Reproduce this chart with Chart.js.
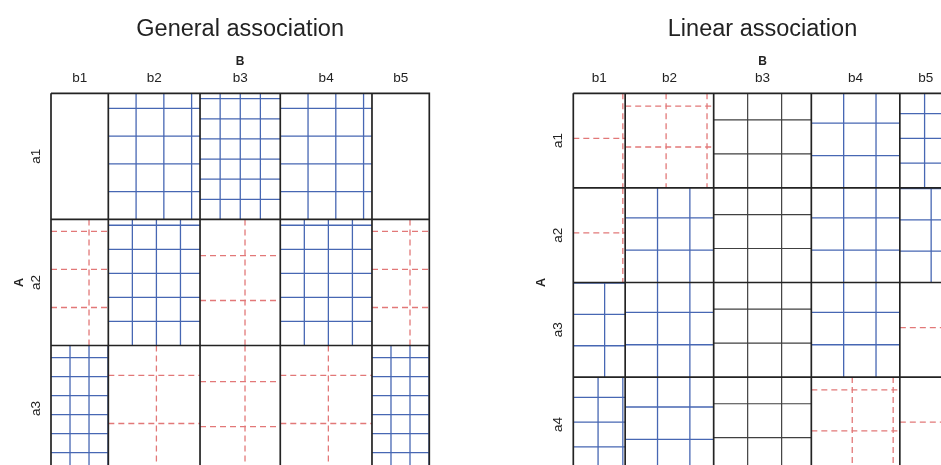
<!DOCTYPE html>
<html>
<head>
<meta charset="utf-8">
<script src="https://cdn.jsdelivr.net/npm/chart.js@4.4.1/dist/chart.umd.min.js"></script>
<style>
  html, body { margin: 0; padding: 0; background: #fff; overflow: hidden; width: 941px; height: 465px; }
  #stage { position: relative; width: 960px; height: 480px; }
  #stage canvas { position: absolute; top: 0; }
  #leftChart  { left: 0; }
  #rightChart { left: 470px; }
</style>
</head>
<body>
<div id="stage">
  <canvas id="leftChart" width="470" height="480"></canvas>
  <canvas id="rightChart" width="490" height="480"></canvas>
</div>
<script>
'use strict';

// ── DATA (observed counts, rows = A, columns = B) ──
const COL_LABELS = ['b1', 'b2', 'b3', 'b4', 'b5'];

const GENERAL_ROWS = ['a1', 'a2', 'a3'];
const GENERAL_A1 = [0, 15, 25, 15, 0];
const GENERAL_A2 = [5, 20, 5, 20, 5];
const GENERAL_A3 = [20, 5, 5, 5, 20];

const LINEAR_ROWS = ['a1', 'a2', 'a3', 'a4'];
const LINEAR_A1 = [2, 5, 8, 8, 8];
const LINEAR_A2 = [2, 8, 8, 8, 5];
const LINEAR_A3 = [5, 8, 8, 8, 2];
const LINEAR_A4 = [8, 8, 8, 5, 2];

// ── STYLE ──
const FONT = '"Liberation Sans", Arial, Helvetica, sans-serif';
const COLORS = {
  border: '#232323',
  plus:   '#4767b3',
  minus:  '#e27878',
  zero:   '#404040',
  text:   '#222222',
};

const sum = arr => arr.reduce((a, b) => a + b, 0);

// ── SIEVE GEOMETRY: cells sized by margins, filled with observed-count squares ──
function buildSieve(table) {
  const rowTot = table.map(sum);
  const colTot = table[0].map((_, j) => sum(table.map(r => r[j])));
  const total  = sum(rowTot);
  const gap = { x: null, y: null };
  const seg = { border: [], plus: [], minus: [], zero: [] };

  let y0 = 0;
  table.forEach((row, i) => {
    const h = rowTot[i];
    let x0 = 0;
    row.forEach((obs, j) => {
      const w = colTot[j];
      const expected = h * w / total;
      const kind = obs > expected + 1e-9 ? 'plus' : (obs < expected - 1e-9 ? 'minus' : 'zero');
      if (obs > 0) {
        const side = Math.sqrt(w * h / obs);
        for (let k = 1; k * side < w - 1e-6; k++) {
          const x = x0 + k * side;
          seg[kind].push({ x, y: y0 }, { x, y: y0 + h }, gap);
        }
        for (let k = 1; k * side < h - 1e-6; k++) {
          const y = y0 + h - k * side;
          seg[kind].push({ x: x0, y }, { x: x0 + w, y }, gap);
        }
      }
      seg.border.push(
        { x: x0, y: y0 }, { x: x0 + w, y: y0 }, { x: x0 + w, y: y0 + h },
        { x: x0, y: y0 + h }, { x: x0, y: y0 }, gap
      );
      x0 += w;
    });
    y0 += h;
  });
  return { seg, rowTot, colTot, total };
}

function lineSet(data, color, width, dash, order) {
  return {
    data,
    showLine: true,
    spanGaps: false,
    clip: 4,
    borderColor: color,
    borderWidth: width,
    borderDash: dash,
    borderCapStyle: 'butt',
    borderJoinStyle: 'miter',
    pointRadius: 0,
    pointHoverRadius: 0,
    tension: 0,
    order,
  };
}

// ── LABELS PLUGIN ──
const sieveLabels = {
  id: 'sieveLabels',
  afterDraw(chart, args, opts) {
    const { ctx, chartArea: area, scales: { x, y } } = chart;
    const cx = (area.left + area.right) / 2;
    ctx.save();
    ctx.fillStyle = COLORS.text;
    ctx.textAlign = 'center';
    ctx.textBaseline = 'alphabetic';

    ctx.font = `23.5px ${FONT}`;
    ctx.fillText(opts.title, cx, 36);

    ctx.font = `bold 12px ${FONT}`;
    ctx.fillText(opts.colVar, cx, 65);

    ctx.font = `13.5px ${FONT}`;
    let acc = 0;
    opts.colTot.forEach((w, j) => {
      ctx.fillText(opts.colLabels[j], x.getPixelForValue(acc + w / 2), 82);
      acc += w;
    });

    acc = 0;
    opts.rowTot.forEach((h, i) => {
      ctx.save();
      ctx.translate(area.left - 11, y.getPixelForValue(acc + h / 2));
      ctx.rotate(-Math.PI / 2);
      ctx.fillText(opts.rowLabels[i], 0, 0);
      ctx.restore();
      acc += h;
    });

    ctx.font = `bold 12.5px ${FONT}`;
    ctx.translate(area.left - 28, y.getPixelForValue(opts.total / 2));
    ctx.rotate(-Math.PI / 2);
    ctx.fillText(opts.rowVar, 0, 0);
    ctx.restore();
  }
};

// ── CHART ──
function drawSieve(canvasId, table, rowLabels, title, padding) {
  const s = buildSieve(table);
  return new Chart(document.getElementById(canvasId), {
    type: 'scatter',
    data: {
      datasets: [
        lineSet(s.seg.border, COLORS.border, 1.7, [], 0),
        lineSet(s.seg.zero,   COLORS.zero,   1.2, [], 1),
        lineSet(s.seg.plus,   COLORS.plus,   1.3, [], 1),
        lineSet(s.seg.minus,  COLORS.minus,  1.3, [6, 4], 1),
      ]
    },
    options: {
      responsive: false,
      animation: false,
      events: [],
      layout: { padding },
      plugins: {
        legend:  { display: false },
        tooltip: { enabled: false },
        sieveLabels: {
          title, colVar: 'B', rowVar: 'A',
          colLabels: COL_LABELS, rowLabels,
          colTot: s.colTot, rowTot: s.rowTot, total: s.total,
        },
      },
      scales: {
        x: { type: 'linear', display: false, min: 0, max: s.total },
        y: { type: 'linear', display: false, min: 0, max: s.total, reverse: true },
      }
    },
    plugins: [sieveLabels]
  });
}

drawSieve('leftChart',
  [GENERAL_A1, GENERAL_A2, GENERAL_A3], GENERAL_ROWS,
  'General association',
  { left: 51, top: 93.3, right: 40.7, bottom: 8.4 });

drawSieve('rightChart',
  [LINEAR_A1, LINEAR_A2, LINEAR_A3, LINEAR_A4], LINEAR_ROWS,
  'Linear association',
  { left: 103.3, top: 93.3, right: 8.3, bottom: 8.3 });
</script>
</body>
</html>
